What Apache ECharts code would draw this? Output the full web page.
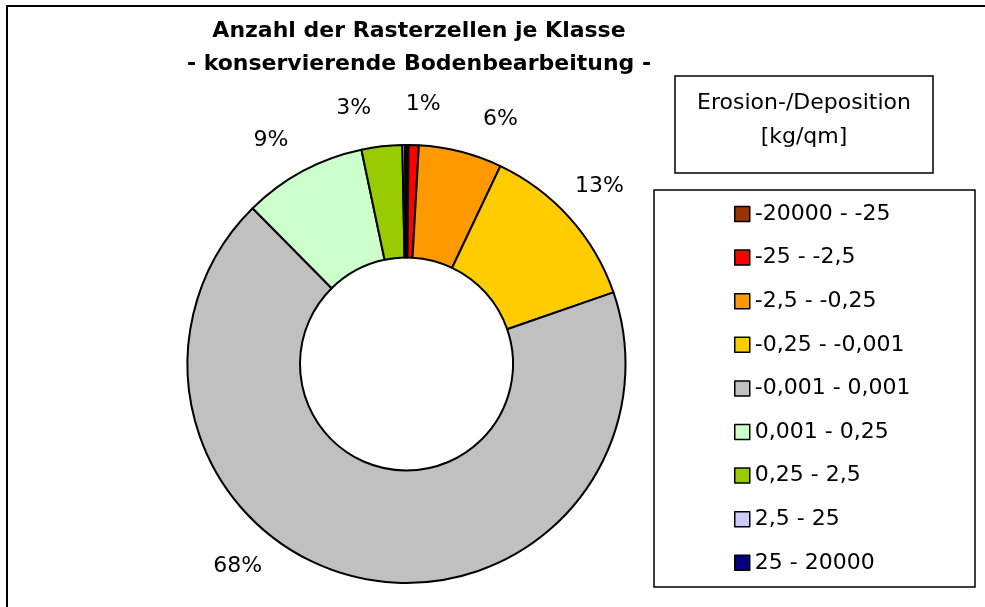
<!DOCTYPE html>
<html>
<head>
<meta charset="utf-8">
<script src="https://cdn.jsdelivr.net/npm/echarts@6/dist/echarts.min.js"></script>
<style>
  html, body { margin: 0; padding: 0; background: #fff; }
  #chart { width: 985px; height: 607px; }
</style>
</head>
<body>
<div id="chart"></div>
<script>
// Klassen (Erosion/Deposition in kg/qm)
var categories = ['-20000 - -25', '-25 - -2,5', '-2,5 - -0,25', '-0,25 - -0,001',
    '-0,001 - 0,001', '0,001 - 0,25', '0,25 - 2,5', '2,5 - 25', '25 - 20000'];
// Anteil der Rasterzellen (%)
var shares = [0.15, 0.75, 6.15, 12.65, 67.9, 9.1, 3.0, 0.2, 0.1];
var colors = ['#993300', '#ff0000', '#ff9900', '#ffcc00', '#c0c0c0',
    '#ccffcc', '#99cc00', '#ccccff', '#000080'];

// Excel hat einige Beschriftungen verschoben
var labelOffsets = [[0, 0], [8, 3], [29, 10], [-3, -2], [-109, -54], [-11, 8], [-23, 6], [0, 0], [0, 0]];

var font = 'DejaVu Sans';
var center = [406.5, 364];

var chart = echarts.init(document.getElementById('chart'));

var option = {
    animation: false,
    color: colors,
    title: {
        text: 'Anzahl der Rasterzellen je Klasse\n- konservierende Bodenbearbeitung -',
        left: 419,
        top: 15,
        padding: 0,
        textAlign: 'center',
        textStyle: { fontFamily: font, fontSize: 22, fontWeight: 'bold', color: '#000', lineHeight: 33 }
    },
    legend: {
        orient: 'vertical',
        left: 734,
        top: 203,
        padding: 0,
        itemWidth: 15,
        itemHeight: 15,
        itemGap: 21.6,
        icon: 'rect',
        selectedMode: false,
        itemStyle: { borderColor: '#000', borderWidth: 1.5 },
        textStyle: { fontFamily: font, fontSize: 22, color: '#000', lineHeight: 22 },
        data: categories
    },
    graphic: [
        { type: 'rect', shape: { x: 7, y: 6, width: 1000, height: 700 },
          style: { fill: 'none', stroke: '#000', lineWidth: 2 } },
        { type: 'rect', shape: { x: 675, y: 76, width: 258, height: 97 },
          style: { fill: '#fff', stroke: '#000', lineWidth: 1.5 } },
        { type: 'text', x: 804, y: 120,
          style: { text: 'Erosion-/Deposition\n[kg/qm]', fontFamily: font, fontSize: 22,
                   lineHeight: 34, fill: '#000', align: 'center', verticalAlign: 'middle' } },
        { type: 'rect', shape: { x: 654, y: 190, width: 321, height: 397 },
          style: { fill: '#fff', stroke: '#000', lineWidth: 1.5 } }
    ],
    series: [
        {
            type: 'pie',
            radius: [106.5, 219],
            center: center,
            startAngle: 90,
            clockwise: true,
            silent: true,
            label: { show: false },
            labelLine: { show: false },
            itemStyle: { borderColor: '#000', borderWidth: 2 },
            data: categories.map(function (c, i) { return { name: c, value: shares[i] }; })
        },
        {
            // unsichtbarer Ring nur fuer die Prozentbeschriftungen
            type: 'pie',
            radius: [250, 270],
            center: center,
            startAngle: 90,
            clockwise: true,
            silent: true,
            itemStyle: { color: 'transparent', borderWidth: 0 },
            labelLine: { show: false },
            data: categories.map(function (c, i) {
                return {
                    name: c,
                    value: shares[i],
                    label: { offset: labelOffsets[i] }
                };
            }),
            label: {
                show: true,
                position: 'inside',
                fontFamily: font,
                fontSize: 22,
                color: '#000',
                formatter: function (p) {
                    return p.percent < 0.5 ? '' : Math.round(p.percent) + '%';
                }
            }
        }
    ]
};

chart.setOption(option);
window.addEventListener('resize', chart.resize);
</script>
</body>
</html>
